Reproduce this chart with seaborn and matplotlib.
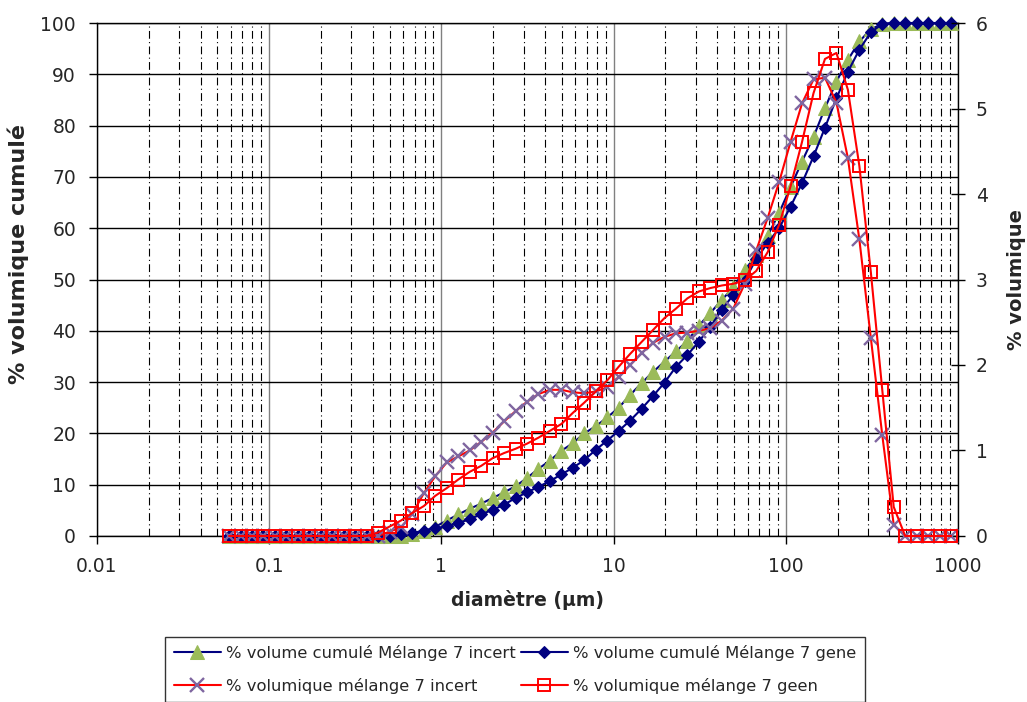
import matplotlib
matplotlib.use("Agg")
import matplotlib.pyplot as plt
from matplotlib.ticker import FixedLocator, FixedFormatter, LogLocator, NullFormatter
import seaborn as sns

# particle size grid (µm)
diameters = [0.0585, 0.0682, 0.0795, 0.0926, 0.108, 0.126, 0.147, 0.171, 0.199, 0.232,
             0.271, 0.315, 0.368, 0.429, 0.500, 0.582, 0.679, 0.791, 0.922, 1.075,
             1.253, 1.460, 1.702, 1.984, 2.313, 2.696, 3.143, 3.664, 4.270, 4.977,
             5.801, 6.761, 7.880, 9.186, 10.71, 12.48, 14.55, 16.96, 19.77, 23.04,
             26.85, 31.30, 36.48, 42.52, 49.57, 57.77, 67.34, 78.49, 91.49, 106.6,
             124.3, 144.9, 168.9, 196.8, 229.4, 267.4, 311.7, 363.3, 423.5, 493.6,
             575.4, 670.6, 781.7, 911.2]

# cumulative volume (%) - left axis
cum_incert = [0] * 15 + [0.05, 0.3, 0.9, 1.8, 3.0,
              4.2, 5.3, 6.3, 7.4, 8.5, 9.7, 11.3, 13.1, 14.7, 16.6,
              18.1, 20.0, 21.4, 23.1, 25.0, 27.5, 29.8, 32.0, 34.0, 36.0,
              38.0, 41.0, 43.5, 46.0, 48.5, 51.8, 54.8, 58.5, 63.0, 68.0,
              73.0, 77.8, 83.4, 88.6, 92.8, 96.4, 98.8, 99.8, 100, 100,
              100, 100, 100, 100]
cum_gene = [0] * 15 + [0.3, 0.6, 1.0, 1.5, 1.9,
            2.5, 3.3, 4.2, 5.1, 6.1, 7.4, 8.5, 9.6, 10.7, 12.0,
            13.3, 14.8, 16.8, 18.6, 20.5, 22.5, 24.8, 27.3, 29.9, 33.0,
            35.3, 37.9, 40.8, 44.1, 47.0, 49.8, 54.0, 57.1, 60.0, 64.2,
            68.8, 74.0, 79.6, 85.3, 90.5, 94.8, 98.2, 99.8, 100, 100,
            100, 100, 100, 100]

# volume fraction (%) - right axis
vol_incert = [0] * 14 + [0.05, 0.1, 0.26, 0.5, 0.70, 0.86,
              0.93, 1.00, 1.10, 1.21, 1.34, 1.46, 1.57, 1.66, 1.71, 1.71,
              1.68, 1.67, 1.69, 1.74, 1.86, 2.00, 2.14, 2.26, 2.33, 2.37,
              2.38, 2.40, 2.43, 2.52, 2.66, 2.95, 3.34, 3.72, 4.14, 4.61,
              5.06, 5.34, 5.36, 5.07, 4.42, 3.47, 2.32, 1.18, 0.13, 0,
              0, 0, 0, 0]
vol_geen = [0] * 13 + [0.04, 0.11, 0.18, 0.27, 0.35, 0.47, 0.56,
            0.66, 0.75, 0.82, 0.91, 0.97, 1.02, 1.08, 1.15, 1.23, 1.31,
            1.44, 1.56, 1.69, 1.82, 1.98, 2.13, 2.27, 2.41, 2.55, 2.66,
            2.78, 2.86, 2.90, 2.93, 2.95, 2.99, 3.10, 3.32, 3.64, 4.09,
            4.61, 5.18, 5.58, 5.65, 5.22, 4.33, 3.09, 1.71, 0.34, 0,
            0, 0, 0, 0]

labels = ["% volume cumulé Mélange 7 incert", "% volume cumulé Mélange 7 gene",
          "% volumique mélange 7 incert", "% volumique mélange 7 geen"]
x_ticks = [0.01, 0.1, 1, 10, 100, 1000]
x_ticklabels = ["0.01", "0.1", "1", "10", "100", "1000"]

NAVY = "#000080"
GREEN = "#9BBB59"
PURPLE = "#7F66A0"
RED = "#FF0000"

sns.set_style("white")
plt.rcParams["font.family"] = ["DejaVu Sans"]

fig = plt.figure(figsize=(10.27, 7.02), dpi=100)
ax = fig.add_axes([0.0944, 0.2365, 0.8384, 0.7307])
ax2 = ax.twinx()

# cumulative curves (left axis)
sns.lineplot(x=diameters, y=cum_incert, ax=ax, color=NAVY, linewidth=1.5,
             marker="^", markersize=9.5, markerfacecolor=GREEN, markeredgecolor=GREEN,
             label=labels[0], clip_on=False, zorder=3)
sns.lineplot(x=diameters, y=cum_gene, ax=ax, color=NAVY, linewidth=1.5,
             marker="D", markersize=6.5, markerfacecolor=NAVY, markeredgecolor=NAVY,
             label=labels[1], clip_on=False, zorder=4)

# volume fraction curves (right axis)
sns.lineplot(x=diameters, y=vol_incert, ax=ax2, color=RED, linewidth=1.5,
             marker="x", markersize=10, markeredgewidth=1.7, markeredgecolor=PURPLE,
             label=labels[2], clip_on=False, zorder=3)
sns.lineplot(x=diameters, y=vol_geen, ax=ax2, color=RED, linewidth=1.5,
             marker="s", markersize=8.5, markerfacecolor="none", markeredgewidth=1.4,
             markeredgecolor=RED, label=labels[3], clip_on=False, zorder=4)

ax.set_xscale("log")
ax.set_xlim(0.01, 1000)
ax.set_ylim(0, 100)
ax2.set_ylim(0, 6)

ax.xaxis.set_major_locator(FixedLocator(x_ticks))
ax.xaxis.set_major_formatter(FixedFormatter(x_ticklabels))
ax.xaxis.set_minor_locator(LogLocator(base=10, subs=range(2, 10)))
ax.xaxis.set_minor_formatter(NullFormatter())
ax.set_yticks(range(0, 101, 10))
ax2.set_yticks(range(0, 7))

# grid
ax.grid(which="major", axis="y", color="black", linewidth=1.0)
ax.grid(which="major", axis="x", color="#808080", linewidth=1.0)
ax.grid(which="minor", axis="x", color="black", linewidth=0.8,
        linestyle=(0, (7, 3, 1, 3)))
ax.set_axisbelow(True)

for side in ["left", "bottom", "top", "right"]:
    ax.spines[side].set_color("black")
    ax.spines[side].set_linewidth(1.0)
    ax2.spines[side].set_visible(False)

ax.tick_params(axis="both", which="major", labelsize=13.5, length=6, width=1,
               direction="out", color="black", pad=9, bottom=True, left=True)
ax.tick_params(axis="x", which="minor", length=0)
ax2.tick_params(axis="y", which="major", labelsize=13.5, length=10, width=1,
                direction="inout", color="black", pad=8, right=True)

ax.set_xlabel("diamètre (µm)", fontsize=13.5, fontweight="bold", labelpad=10)
ax.set_ylabel("% volumique cumulé", fontsize=16, fontweight="bold")
ax.yaxis.set_label_coords(-0.079, 0.55)
ax2.set_ylabel("% volumique", fontsize=14, fontweight="bold", labelpad=14)

# shared legend below the chart
h1, l1 = ax.get_legend_handles_labels()
h2, l2 = ax2.get_legend_handles_labels()
ax.get_legend().remove()
ax2.get_legend().remove()
handles = [h1[0], h2[0], h1[1], h2[1]]
names = [l1[0], l2[0], l1[1], l2[1]]
leg = fig.legend(handles, names, ncol=2, loc="upper left",
                 bbox_to_anchor=(0.161, 0.0926), frameon=True, fancybox=False,
                 edgecolor="black", fontsize=11.8, handlelength=2.9,
                 columnspacing=0.3, labelspacing=1.0, borderpad=0.5,
                 handletextpad=0.3, borderaxespad=0)
leg.get_frame().set_linewidth(1.0)

fig.savefig("out.png", dpi=100)
